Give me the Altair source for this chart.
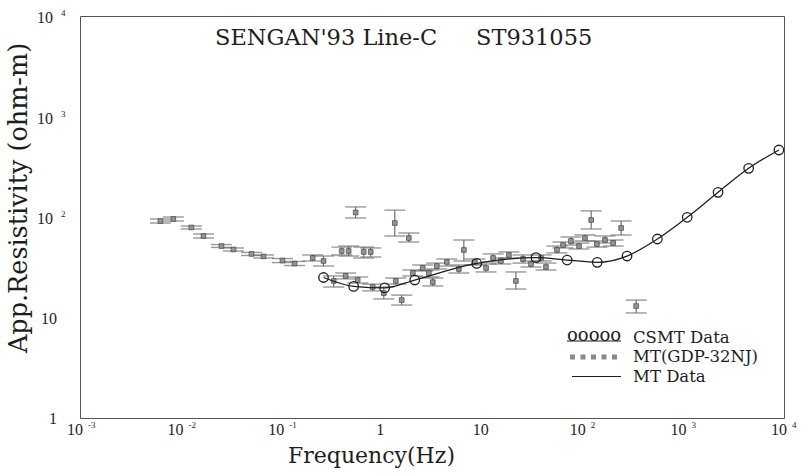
import altair as alt
import pandas as pd

# ---- CSMT sounding: frequency (Hz) and apparent resistivity (ohm-m)
csmt_freq = [0.264, 0.526, 1.07, 2.13, 8.8, 34.2, 69.8, 139, 275, 551, 1090, 2210, 4450, 8900]
csmt_rho = [25.0, 20.4, 19.7, 23.6, 34.5, 39.4, 37.3, 35.4, 40.9, 60.4, 99.3, 176, 305, 464]

# ---- MT (GDP-32NJ): apparent resistivity with lower / upper error limits
mt_freq = [0.0063, 0.00848, 0.0128, 0.0169, 0.0255, 0.0336, 0.0507, 0.0668, 0.103, 0.136,
           0.206, 0.264, 0.400, 0.469, 0.662, 0.777, 0.551, 1.35, 1.86, 0.333,
           0.438, 0.577, 1.05, 0.813, 1.58, 1.38, 2.04, 2.56, 3.22, 3.53,
           2.94, 4.44, 6.56, 5.85, 8.44, 10.9, 12.8, 15.3, 21.6, 18.4,
           25.4, 30.5, 38.4, 43.0, 55.3, 63.5, 76.2, 91.6, 105, 121,
           138, 166, 200, 240, 339]
mt_rho = [91.2, 95.5, 78.7, 64.7, 51.4, 47.5, 42.9, 40.5, 36.9, 34.4,
          39.1, 36.5, 45.9, 45.9, 44.9, 44.9, 111, 87.1, 61.8, 23.1,
          25.9, 23.6, 17.5, 20.1, 14.9, 23.1, 27.7, 31.1, 22.5, 32.5,
          27.7, 35.7, 47.0, 30.4, 35.7, 31.1, 39.1, 36.5, 23.1, 41.9,
          38.2, 34.1, 39.1, 31.8, 47.0, 52.6, 57.7, 51.4, 61.8, 93.3,
          53.8, 59.0, 55.1, 77.8, 13.0]
mt_hi = [95.5, 100, 81.3, 67.8, 53.2, 49.2, 44.4, 41.9, 38.6, 36.1,
         41.9, 40.9, 50.2, 51.4, 50.2, 49.2, 126, 117, 69.3, 25.9,
         27.7, 25.3, 20.1, 21.5, 16.7, 24.7, 29.7, 33.3, 24.7, 34.8,
         29.7, 38.2, 59.0, 33.3, 38.2, 34.1, 42.9, 39.1, 28.4, 44.9,
         41.9, 36.5, 41.9, 34.8, 51.4, 56.4, 63.2, 55.1, 66.2, 115,
         57.7, 64.7, 59.0, 91.2, 14.9]
mt_lo = [87.1, 91.2, 76.0, 61.8, 49.8, 45.9, 41.4, 39.1, 35.2, 32.9,
         36.5, 32.5, 41.9, 40.9, 39.1, 40.0, 97.7, 64.7, 56.4, 20.1,
         24.2, 22.0, 15.3, 18.4, 13.3, 21.5, 25.9, 29.0, 20.6, 30.4,
         25.3, 32.5, 36.5, 27.7, 33.3, 28.4, 35.7, 34.1, 19.2, 39.1,
         34.8, 31.8, 36.5, 29.7, 43.9, 49.2, 52.6, 48.1, 57.7, 76.0,
         50.2, 55.1, 51.4, 66.2, 11.1]

# ---- axis decades and their labels (base + superscript exponent)
x_major = [0.001, 0.01, 0.1, 1, 10, 100, 1000, 10000]
x_base = ["10", "10", "10", "1", "10", "10", "10", "10"]
x_exp = ["-3", "-2", "-1", "", "", "2", "3", "4"]
y_major = [1, 10, 100, 1000, 10000]
y_base = ["1", "10", "10", "10", "10"]
y_exp = ["", "", "2", "3", "4"]

title_parts = ["SENGAN'93 Line-C", "ST931055"]
x_title = "Frequency(Hz)"
y_title = "App.Resistivity (ohm-m)"
legend_labels = ["CSMT Data", "MT(GDP-32NJ)", "MT Data"]

FONT = "DejaVu Serif"
SERIF = "Liberation Serif"
INK = "#1e1e1e"

x_ticks = [m * 10.0 ** k for k in range(-3, 4) for m in range(1, 10)] + [10000]
y_ticks = [m * 10.0 ** k for k in range(0, 4) for m in range(1, 10)] + [10000]

xscale = alt.Scale(type="log", domain=[0.001, 10000], nice=False)
yscale = alt.Scale(type="log", domain=[1, 10000], nice=False)

x_axis = alt.Axis(values=x_ticks, labels=False, grid=False, tickSize=7, tickColor=INK,
                  tickWidth=1.2, domainColor=INK, domainWidth=1.6, title=None)
y_axis = alt.Axis(values=y_ticks, labels=False, grid=False,
                  tickSize={"condition": {"test": "indexof([1,10,100,1000,10000], datum.value) >= 0",
                                          "value": 10}, "value": 6},
                  tickColor=INK, tickWidth=1.2, domainColor=INK, domainWidth=1.6, title=None)

mt = pd.DataFrame({"f": mt_freq, "rho": mt_rho, "lo": mt_lo, "hi": mt_hi})
csmt = pd.DataFrame({"f": csmt_freq, "rho": csmt_rho})

X = alt.X("f:Q", scale=xscale, axis=x_axis)
Xn = alt.X("f:Q", scale=xscale, axis=None)

err = alt.Chart(mt).mark_rule(color="#555555", strokeWidth=1).encode(
    x=X, y=alt.Y("lo:Q", scale=yscale, axis=y_axis), y2="hi:Q")
cap_lo = alt.Chart(mt).mark_tick(orient="horizontal", size=21, thickness=1.4, color="#6e6e6e").encode(
    x=Xn, y=alt.Y("lo:Q", scale=yscale, axis=None))
cap_hi = alt.Chart(mt).mark_tick(orient="horizontal", size=21, thickness=1.4, color="#6e6e6e").encode(
    x=Xn, y=alt.Y("hi:Q", scale=yscale, axis=None))
squares = alt.Chart(mt).mark_square(size=22, color="#949494", stroke="#444444", strokeWidth=0.7,
                                    opacity=1).encode(
    x=Xn, y=alt.Y("rho:Q", scale=yscale, axis=None))

csmt_line = alt.Chart(csmt).mark_line(color=INK, strokeWidth=1.3, interpolate="monotone").encode(
    x=Xn, y=alt.Y("rho:Q", scale=yscale, axis=None))
csmt_pts = alt.Chart(csmt).mark_point(shape="circle", size=90, filled=False, color=INK,
                                      strokeWidth=1.3, opacity=1).encode(
    x=Xn, y=alt.Y("rho:Q", scale=yscale, axis=None))

# ---- tick labels: "10" plus a small raised exponent
xl = pd.DataFrame({"v": x_major, "b": x_base, "e": x_exp})
xl_pow = xl[xl["e"] != ""]
xl_plain = xl[xl["e"] == ""]
xlab_pow = alt.Chart(xl_pow).mark_text(font=SERIF, fontSize=16, color=INK, align="center",
                                       baseline="alphabetic", dx=-5).encode(
    x=alt.X("v:Q", scale=xscale, axis=None), y=alt.value(419), text="b:N")
xlab_exp = alt.Chart(xl_pow).mark_text(font=SERIF, fontSize=9, color=INK, align="left",
                                       baseline="middle", dx=8).encode(
    x=alt.X("v:Q", scale=xscale, axis=None), y=alt.value(409), text="e:N")
xlab_plain = alt.Chart(xl_plain).mark_text(font=SERIF, fontSize=16, color=INK, align="center",
                                           baseline="alphabetic", dx=-1.5).encode(
    x=alt.X("v:Q", scale=xscale, axis=None), y=alt.value(419), text="b:N")

yl = pd.DataFrame({"v": y_major, "b": y_base, "e": y_exp})
yl_pow = yl[yl["e"] != ""]
yl_plain = yl[yl["e"] == ""]
ylab_pow = alt.Chart(yl_pow).mark_text(font=SERIF, fontSize=16, color=INK, align="right",
                                       baseline="middle", dy=2).encode(
    y=alt.Y("v:Q", scale=yscale, axis=None), x=alt.value(-27), text="b:N")
ylab_exp = alt.Chart(yl_pow).mark_text(font=SERIF, fontSize=9, color=INK, align="left",
                                       baseline="middle", dy=-3).encode(
    y=alt.Y("v:Q", scale=yscale, axis=None), x=alt.value(-19), text="e:N")
ylab_plain = alt.Chart(yl_plain).mark_text(font=SERIF, fontSize=16, color=INK, align="right",
                                           baseline="middle", dy=1).encode(
    y=alt.Y("v:Q", scale=yscale, axis=None), x=alt.value(-23), text="b:N")


def label(text, x, y, size, align="left", baseline="middle", angle=0):
    """A single piece of text placed in plot-area pixels."""
    return alt.Chart(pd.DataFrame({"t": [text]})).mark_text(
        font=FONT, fontSize=size, color=INK, align=align, baseline=baseline, angle=angle).encode(
        x=alt.value(x), y=alt.value(y), text="t:N")


# ---- axis titles
xtitle = label(x_title, 291.5, 447, 22, align="center", baseline="alphabetic")
ytitle = label(y_title, -53, 182, 25.5, align="center", baseline="alphabetic", angle=270)

# ---- heading inside the frame
head1 = label(title_parts[0], 135, 29, 22.5, baseline="alphabetic")
head2 = label(title_parts[1], 396, 29, 22.5, baseline="alphabetic")

# ---- legend (bottom right)
rows = [321.5, 341, 360.5]
leg_texts = [label(legend_labels[i], 553, yy, 16.5) for i, yy in enumerate(rows)]
leg_circles = label("ooooo", 487, rows[0] - 2, 18)
one = pd.DataFrame({"k": [0]})
leg_underline = alt.Chart(one).mark_rule(color=INK, strokeWidth=1.2).encode(
    x=alt.value(487), x2=alt.value(541), y=alt.value(rows[0] + 3.5))
leg_squares = alt.Chart(one).mark_rule(color="#8a8a8a", strokeWidth=5, strokeDash=[5, 5.5]).encode(
    x=alt.value(490), x2=alt.value(541), y=alt.value(rows[1]))
leg_line = alt.Chart(one).mark_rule(color=INK, strokeWidth=1).encode(
    x=alt.value(492), x2=alt.value(541), y=alt.value(rows[2]))

chart = alt.layer(
    err, cap_lo, cap_hi, squares, csmt_line, csmt_pts,
    xlab_pow, xlab_exp, xlab_plain, ylab_pow, ylab_exp, ylab_plain,
    xtitle, ytitle, head1, head2, *leg_texts, leg_circles, leg_underline, leg_squares, leg_line,
).properties(
    width=704, height=402,
    autosize=alt.AutoSizeParams(type="none"),
    padding={"left": 80, "top": 16, "right": 17, "bottom": 55},
    background="white",
).configure_view(stroke="#555555", strokeWidth=1)

chart.save("out.html", embed_options={"renderer": "svg", "actions": False})
